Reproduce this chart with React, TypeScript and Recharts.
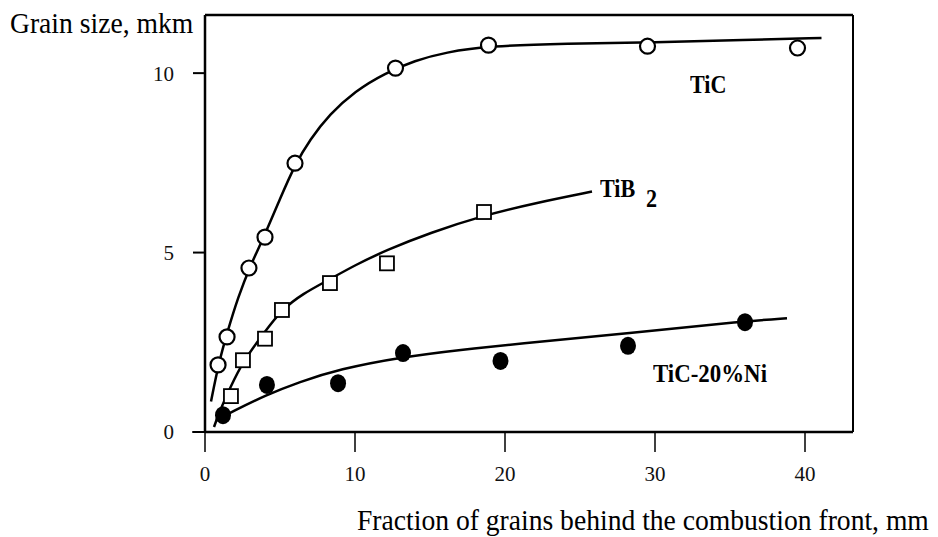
import React from 'react';
import { ComposedChart, XAxis, YAxis, Line, Scatter, ReferenceLine } from 'recharts';

const SERIF = "'Liberation Serif', 'Times New Roman', serif";

// measured points
const tiCX = [0.87, 1.47, 2.93, 4.0, 6.0, 12.7, 18.9, 29.5, 39.5];
const tiCY = [1.87, 2.65, 4.57, 5.43, 7.49, 10.14, 10.78, 10.75, 10.7];
const tiB2X = [1.73, 2.53, 4.0, 5.13, 8.33, 12.13, 18.6];
const tiB2Y = [1.0, 2.0, 2.6, 3.4, 4.15, 4.7, 6.13];
const niX = [1.2, 4.13, 8.87, 13.2, 19.7, 28.2, 36.0];
const niY = [0.47, 1.31, 1.36, 2.2, 1.98, 2.4, 3.06];

// hand-drawn fitted curves
const tiCFitX = [0.4, 0.9, 1.5, 2.2, 3.0, 4.0, 5.0, 6.0, 7.0, 8.3, 10.0, 12.0, 14.0, 16.0, 19.0, 24, 30, 36, 41.1];
const tiCFitY = [0.85, 1.9, 2.8, 3.75, 4.62, 5.5, 6.5, 7.45, 8.15, 8.85, 9.5, 10.0, 10.35, 10.58, 10.76, 10.82, 10.86, 10.92, 10.98];
const tiB2FitX = [0.6, 1.0, 1.7, 2.5, 4.0, 5.1, 6.5, 8.3, 10, 12.1, 15, 18.6, 22, 25.8];
const tiB2FitY = [0.14, 0.6, 1.25, 1.95, 2.8, 3.4, 3.85, 4.25, 4.65, 5.07, 5.55, 6.04, 6.38, 6.7];
const niFitX = [0.73, 1.8, 4.07, 6.27, 8.93, 13.1, 17.4, 20.5, 28.3, 36.1, 38.8];
const niFitY = [0.33, 0.56, 1.03, 1.39, 1.75, 2.09, 2.31, 2.44, 2.76, 3.09, 3.17];

const xTicks = [0, 10, 20, 30, 40];
const yTicks = [0, 5, 10];
const X_MAX = 43.2;
const Y_MAX = 11.62;

const zip = (xs: number[], ys: number[]) => xs.map((x, i) => ({ x, y: ys[i] }));

const OpenCircle = (p: any) => (
  <circle cx={p.cx} cy={p.cy} r={7.5} fill="#fff" stroke="#000" strokeWidth={2.2} />
);
const OpenSquare = (p: any) => (
  <rect x={p.cx - 7} y={p.cy - 7} width={14} height={14} fill="#fff" stroke="#000" strokeWidth={1.8} />
);
const FilledCircle = (p: any) => <ellipse cx={p.cx} cy={p.cy} rx={8} ry={9} fill="#000" />;

const txt = (left: number, top: number, size: number, scale: number, bold = false): React.CSSProperties => ({
  position: 'absolute',
  left,
  top,
  fontSize: size,
  lineHeight: 1,
  fontFamily: SERIF,
  fontWeight: bold ? 'bold' : 'normal',
  whiteSpace: 'nowrap',
  transform: `scaleX(${scale})`,
  transformOrigin: 'left top',
  color: '#000',
});

export default function App() {
  const line = { stroke: '#000', strokeWidth: 2.5 };
  return (
    <div style={{ position: 'absolute', left: 0, top: 0, width: 938, height: 537, background: '#fff' }}>
      <ComposedChart width={938} height={537} margin={{ top: 15, right: 85, bottom: 0, left: 0 }}>
        <XAxis
          type="number"
          dataKey="x"
          domain={[0, X_MAX]}
          ticks={xTicks}
          height={105}
          tickSize={20}
          tickMargin={14}
          allowDataOverflow
          axisLine={line}
          tickLine={{ stroke: '#000', strokeWidth: 1.5 }}
          tick={{ fill: '#111', fontSize: 21, fontFamily: SERIF }}
        />
        <YAxis
          type="number"
          dataKey="y"
          domain={[0, Y_MAX]}
          ticks={yTicks}
          width={205}
          tickSize={12}
          tickMargin={19}
          allowDataOverflow
          axisLine={line}
          tickLine={{ stroke: '#000', strokeWidth: 2 }}
          tick={{ fill: '#111', fontSize: 21, fontFamily: SERIF }}
        />
        <ReferenceLine y={Y_MAX} stroke="#000" strokeWidth={2.5} />
        <ReferenceLine x={X_MAX} stroke="#000" strokeWidth={2} />
        <ReferenceLine
          segment={[{ x: -0.85, y: 0 }, { x: 0, y: 0 }]}
          stroke="#000"
          strokeWidth={2}
          ifOverflow="visible"
        />
        <Line data={zip(tiCFitX, tiCFitY)} dataKey="y" type="basis" stroke="#000" strokeWidth={2.5} dot={false} isAnimationActive={false} />
        <Line data={zip(tiB2FitX, tiB2FitY)} dataKey="y" type="basis" stroke="#000" strokeWidth={2.5} dot={false} isAnimationActive={false} />
        <Line data={zip(niFitX, niFitY)} dataKey="y" type="basis" stroke="#000" strokeWidth={2.5} dot={false} isAnimationActive={false} />
        <Scatter data={zip(tiCX, tiCY)} dataKey="y" shape={OpenCircle} isAnimationActive={false} />
        <Scatter data={zip(tiB2X, tiB2Y)} dataKey="y" shape={OpenSquare} isAnimationActive={false} />
        <Scatter data={zip(niX, niY)} dataKey="y" shape={FilledCircle} isAnimationActive={false} />
      </ComposedChart>
      <div style={txt(10, 8, 30, 0.92)}>Grain size, mkm</div>
      <div style={txt(357, 505, 30, 0.92)}>Fraction of grains behind the combustion front, mm</div>
      <div style={txt(690, 72, 26, 0.85, true)}>TiC</div>
      <div style={txt(600, 176, 26, 0.85, true)}>TiB</div>
      <div style={txt(646, 186, 26, 0.85, true)}>2</div>
      <div style={txt(653, 361, 26, 0.88, true)}>TiC-20%Ni</div>
    </div>
  );
}
